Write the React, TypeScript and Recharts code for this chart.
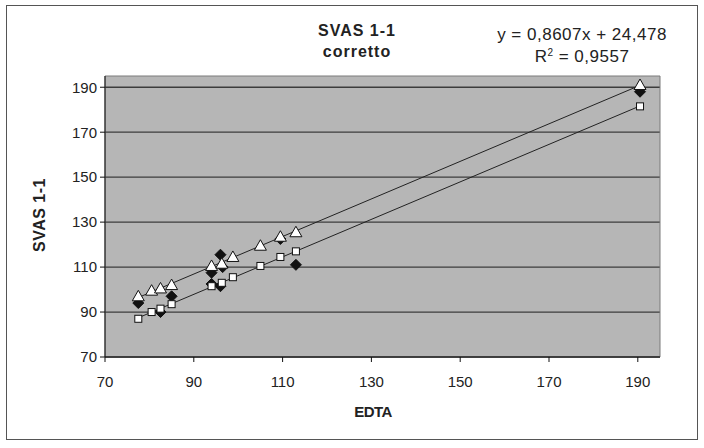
import React from 'react';
import { ComposedChart, Scatter, XAxis, YAxis, CartesianGrid, ReferenceLine, ReferenceArea } from 'recharts';

const xTicks = [70, 90, 110, 130, 150, 170, 190];
const yTicks = [70, 90, 110, 130, 150, 170, 190];

const edta = [77.5, 80.5, 82.5, 85, 94, 96.3, 98.8, 105, 109.5, 113, 190.5];
const triangleVals = [97, 99.5, 100.5, 102, 110.5, 111.5, 114.5, 119.5, 123.5, 125.5, 191];
const squareVals = [87, 90, 91.5, 93.5, 101.5, 103, 105.5, 110.5, 114.5, 117, 181.5];

const diamondX = [77.5, 82.5, 85, 94, 94, 96, 96.5, 96, 109.5, 113, 190.5];
const diamondY = [94, 90, 97, 107.5, 102.5, 115.5, 110, 101.5, 122.5, 111, 188];

const triangles = edta.map((x, i) => ({ x, y: triangleVals[i] }));
const squares = edta.map((x, i) => ({ x, y: squareVals[i] }));
const diamonds = diamondX.map((x, i) => ({ x, y: diamondY[i] }));

function fit(pts: { x: number; y: number }[]) {
  const n = pts.length;
  const mx = pts.reduce((s, p) => s + p.x, 0) / n;
  const my = pts.reduce((s, p) => s + p.y, 0) / n;
  let sxy = 0, sxx = 0;
  pts.forEach(p => { sxy += (p.x - mx) * (p.y - my); sxx += (p.x - mx) ** 2; });
  const b = sxy / sxx;
  const a = my - b * mx;
  const xs = pts.map(p => p.x);
  const x0 = Math.min(...xs), x1 = Math.max(...xs);
  return [{ x: x0, y: a + b * x0 }, { x: x1, y: a + b * x1 }];
}

const Triangle = (props: any) => {
  const { cx, cy } = props;
  return <polygon points={`${cx},${cy - 6} ${cx + 6},${cy + 4.5} ${cx - 6},${cy + 4.5}`} fill="#fff" stroke="#111" strokeWidth={1} />;
};
const Square = (props: any) => {
  const { cx, cy } = props;
  return <rect x={cx - 3.5} y={cy - 3.5} width={7} height={7} fill="#fff" stroke="#111" strokeWidth={1} />;
};
const Diamond = (props: any) => {
  const { cx, cy } = props;
  return <polygon points={`${cx},${cy - 5.5} ${cx + 5.5},${cy} ${cx},${cy + 5.5} ${cx - 5.5},${cy}`} fill="#111" stroke="#111" strokeWidth={1} />;
};

const font = '"Liberation Sans", Arial, sans-serif';

export default function App() {
  return (
    <div style={{ position: 'absolute', left: 0, top: 0, width: 704, height: 448, background: '#fff', fontFamily: font, overflow: 'hidden' }}>
      <div style={{ position: 'absolute', left: 6, top: 5, width: 692, height: 435, border: '1px solid #555', boxSizing: 'border-box' }} />
      <ComposedChart width={704} height={448} margin={{ top: 76, right: 44, bottom: 61, left: 20 }}>
        <CartesianGrid vertical={false} horizontal={true} fill="#b6b6b6" stroke="#3c3c3c" strokeWidth={1.3} horizontalValues={yTicks} />
        <ReferenceArea x1={70} x2={195} y1={70} y2={195} fill="none" stroke="#7a7a7a" strokeWidth={1} ifOverflow="visible" />
        <XAxis type="number" dataKey="x" domain={[70, 195]} ticks={xTicks} allowDataOverflow
          tick={{ fill: '#222', fontSize: 15, fontFamily: font }} tickLine={{ stroke: '#111' }} axisLine={{ stroke: '#111' }} tickSize={5} tickMargin={14} height={30} />
        <YAxis type="number" dataKey="y" domain={[70, 195]} ticks={yTicks} allowDataOverflow
          tick={{ fill: '#222', fontSize: 15, fontFamily: font }} tickLine={{ stroke: '#111' }} axisLine={{ stroke: '#111' }} tickSize={5} tickMargin={3} width={85} />
        <ReferenceLine segment={fit(triangles)} stroke="#222" strokeWidth={1} ifOverflow="visible" />
        <ReferenceLine segment={fit(squares)} stroke="#222" strokeWidth={1} ifOverflow="visible" />
        <Scatter data={diamonds} shape={Diamond} isAnimationActive={false} />
        <Scatter data={squares} shape={Square} isAnimationActive={false} />
        <Scatter data={triangles} shape={Triangle} isAnimationActive={false} />
      </ComposedChart>
      <div style={{ position: 'absolute', left: 257, width: 200, top: 20, textAlign: 'center', fontWeight: 'bold', fontSize: 16, letterSpacing: 1, lineHeight: '21px', color: '#222' }}>
        SVAS 1-1<br />corretto
      </div>
      <div style={{ position: 'absolute', left: 472, width: 220, top: 24, textAlign: 'center', fontSize: 17, letterSpacing: 0.5, lineHeight: '22px', color: '#222' }}>
        y = 0,8607x + 24,478<br />R<sup style={{ fontSize: 10, verticalAlign: 'top', lineHeight: '14px' }}>2</sup> = 0,9557
      </div>
      <div style={{ position: 'absolute', left: 40, top: 215, width: 0, height: 0 }}>
        <div style={{ position: 'absolute', transform: 'translate(-50%, -50%) rotate(-90deg)', whiteSpace: 'nowrap', fontWeight: 'bold', fontSize: 16, letterSpacing: 0.5, color: '#222' }}>SVAS 1-1</div>
      </div>
      <div style={{ position: 'absolute', left: 323, width: 100, top: 403, textAlign: 'center', fontWeight: 'bold', fontSize: 15, letterSpacing: -0.5, color: '#222' }}>EDTA</div>
    </div>
  );
}
